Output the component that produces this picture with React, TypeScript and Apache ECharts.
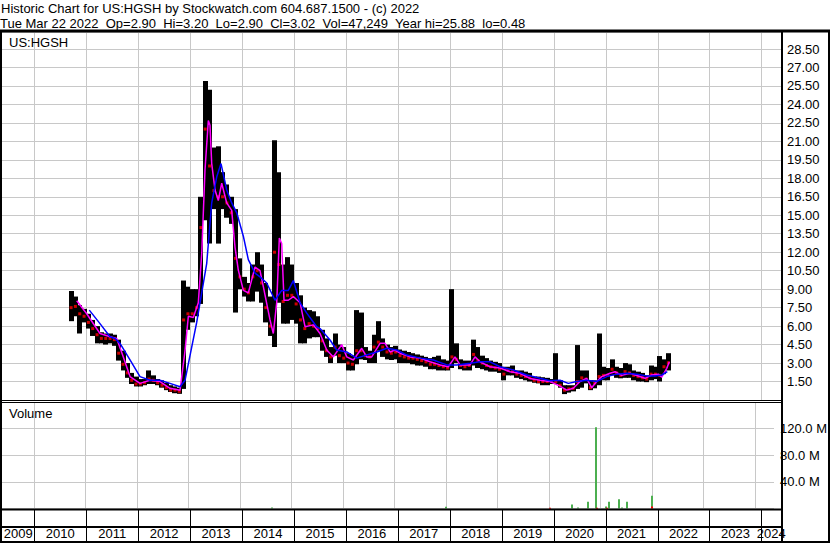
import React, { useEffect, useRef } from "react";
import * as echarts from "echarts";

// ---------- DATA ----------
const months = [
  "2010-09", "2010-10", "2010-11", "2010-12",
  "2011-01", "2011-02", "2011-03", "2011-04", "2011-05", "2011-06", "2011-07", "2011-08", "2011-09", "2011-10", "2011-11", "2011-12",
  "2012-01", "2012-02", "2012-03", "2012-04", "2012-05", "2012-06", "2012-07", "2012-08", "2012-09", "2012-10", "2012-11", "2012-12",
  "2013-01", "2013-02", "2013-03", "2013-04", "2013-05", "2013-06", "2013-07", "2013-08", "2013-09", "2013-10", "2013-11", "2013-12",
  "2014-01", "2014-02", "2014-03", "2014-04", "2014-05", "2014-06", "2014-07", "2014-08", "2014-09", "2014-10", "2014-11", "2014-12",
  "2015-01", "2015-02", "2015-03", "2015-04", "2015-05", "2015-06", "2015-07", "2015-08", "2015-09", "2015-10", "2015-11", "2015-12",
  "2016-01", "2016-02", "2016-03", "2016-04", "2016-05", "2016-06", "2016-07", "2016-08", "2016-09", "2016-10", "2016-11", "2016-12",
  "2017-01", "2017-02", "2017-03", "2017-04", "2017-05", "2017-06", "2017-07", "2017-08", "2017-09", "2017-10", "2017-11", "2017-12",
  "2018-01", "2018-02", "2018-03", "2018-04", "2018-05", "2018-06", "2018-07", "2018-08", "2018-09", "2018-10", "2018-11", "2018-12",
  "2019-01", "2019-02", "2019-03", "2019-04", "2019-05", "2019-06", "2019-07", "2019-08", "2019-09", "2019-10", "2019-11", "2019-12",
  "2020-01", "2020-02", "2020-03", "2020-04", "2020-05", "2020-06", "2020-07", "2020-08", "2020-09", "2020-10", "2020-11", "2020-12",
  "2021-01", "2021-02", "2021-03", "2021-04", "2021-05", "2021-06", "2021-07", "2021-08", "2021-09", "2021-10", "2021-11", "2021-12",
  "2022-01", "2022-02", "2022-03",
];

const highs = [
  8.85, 8.4, 7.7, 7.4,
  7.0, 6.5, 6.0, 5.5, 5.4, 5.4, 5.3, 4.9, 4.0, 3.0, 2.2, 1.9,
  1.7, 1.7, 2.4, 2.0, 1.7, 1.6, 1.4, 1.2, 1.1, 1.0, 9.7, 9.2,
  9.0, 9.0, 16.5, 25.9, 25.2, 20.5, 20.6, 18.5, 17.5, 16.5, 15.5, 11.5,
  10.0, 9.5, 11.0, 12.0, 11.0, 9.5, 8.4, 21.1, 18.5, 11.0, 11.6, 11.0,
  9.5, 8.5, 7.5, 7.3, 7.2, 6.8, 5.7, 5.0, 4.3, 5.4, 4.5, 4.3,
  3.8, 3.6, 7.3, 7.1, 4.3, 4.0, 5.3, 6.4, 5.0, 4.5, 4.3, 4.4,
  4.1, 4.0, 3.9, 3.8, 3.7, 3.6, 3.5, 3.4, 3.5, 3.6, 3.3, 3.2,
  9.0, 4.6, 3.3, 3.2, 3.2, 4.9, 4.3, 3.6, 3.4, 3.2, 3.1, 3.0,
  2.7, 2.7, 2.8, 2.4, 2.4, 2.3, 2.2, 1.9, 1.9, 1.85, 1.8, 1.7,
  3.8, 1.6, 1.2, 1.2, 1.2, 4.46, 2.4, 2.4, 1.6, 1.6, 5.4, 2.7,
  2.6, 3.3, 2.7, 2.6, 3.0, 2.9, 2.4, 2.3, 2.2, 2.0, 2.8, 2.7,
  3.57, 3.3, 3.8,
];

const lows = [
  6.4, 6.8, 5.4, 6.3,
  5.8, 5.2, 4.6, 4.6, 4.5, 4.6, 4.4, 3.2, 2.4, 1.8, 1.3, 1.1,
  1.1, 1.2, 1.3, 1.3, 1.2, 1.0, 0.8, 0.65, 0.55, 0.5, 0.9, 5.7,
  6.3, 6.8, 7.8, 14.6, 12.7, 15.5, 12.7, 15.5, 14.8, 14.3, 7.1, 9.0,
  8.4, 8.0, 8.0, 8.8, 7.9, 6.3, 5.2, 4.3, 7.9, 6.2, 6.2, 6.5,
  6.2, 4.6, 4.6, 5.0, 5.1, 5.1, 4.0, 3.5, 3.0, 3.6, 3.0, 3.0,
  2.4, 2.4, 2.9, 3.3, 3.25, 3.0, 3.0, 4.0, 3.5, 3.3, 3.25, 3.3,
  3.0, 3.0, 3.0, 2.9, 2.8, 2.8, 2.7, 2.5, 2.5, 2.4, 2.4, 2.4,
  2.6, 3.0, 2.5, 2.4, 2.4, 2.8, 2.6, 2.5, 2.4, 2.3, 2.3, 2.2,
  1.6, 2.0, 2.0, 1.8, 1.7, 1.6, 1.5, 1.4, 1.35, 1.2, 1.2, 1.3,
  1.3, 1.0, 0.48, 0.6, 0.7, 0.9, 1.0, 1.35, 0.8, 0.95, 1.2, 1.6,
  1.6, 2.0, 1.8, 1.76, 1.8, 1.8, 1.6, 1.5, 1.5, 1.45, 1.6, 1.7,
  1.5, 2.1, 2.4,
];

const closes = [
  7.5, 7.6, 7.0, 6.8,
  6.3, 5.8, 5.3, 5.0, 5.0, 5.0, 4.9, 3.8, 2.9, 2.2, 1.6, 1.3,
  1.3, 1.4, 1.7, 1.6, 1.4, 1.2, 1.0, 0.8, 0.8, 0.7, 6.5, 7.0,
  7.0, 7.5, 14.0, 22.0, 19.0, 17.0, 16.5, 16.5, 16.0, 15.2, 11.5, 10.0,
  9.0, 8.7, 10.0, 10.5, 9.5, 7.5, 6.0, 12.0, 11.0, 8.0, 8.5, 8.5,
  7.8, 6.5, 5.8, 6.2, 6.0, 5.8, 4.8, 4.0, 3.5, 4.3, 3.6, 3.4,
  3.0, 2.9, 4.0, 4.0, 3.6, 3.5, 4.3, 4.7, 4.3, 3.9, 3.8, 3.9,
  3.6, 3.5, 3.4, 3.4, 3.3, 3.2, 3.1, 2.9, 2.9, 2.8, 2.7, 2.6,
  3.5, 3.3, 2.8, 2.7, 2.8, 3.7, 3.2, 3.0, 2.8, 2.7, 2.6, 2.5,
  2.1, 2.4, 2.3, 2.1, 2.0, 1.9, 1.8, 1.6, 1.5, 1.5, 1.5, 1.5,
  1.5, 1.2, 0.8, 0.9, 0.95, 1.5, 1.8, 1.7, 1.0, 1.4, 1.9, 2.0,
  2.0, 2.5, 2.2, 2.0, 2.3, 2.2, 2.0, 1.9, 1.8, 1.7, 2.1, 2.1,
  2.0, 2.7, 3.02,
];

// short moving average (magenta), dates in decimal years
const maFastDates = [
  2010.817, 2011.009, 2011.265, 2011.458, 2011.587, 2011.714, 2011.843, 2012.035, 2012.228, 2012.42,
  2012.613, 2012.806, 2012.902, 2012.966, 2013.062, 2013.158, 2013.224, 2013.287, 2013.351, 2013.383,
  2013.416, 2013.48, 2013.543, 2013.609, 2013.705, 2013.801, 2013.865, 2013.928, 2014.025, 2014.121,
  2014.25, 2014.346, 2014.41, 2014.539, 2014.602, 2014.668, 2014.718, 2014.764, 2014.808, 2014.891,
  2014.988, 2015.117, 2015.213, 2015.373, 2015.502, 2015.631, 2015.758, 2015.92, 2016.016, 2016.143,
  2016.305, 2016.401, 2016.497, 2016.657, 2016.753, 2016.85, 2016.946, 2017.042, 2017.235, 2017.427,
  2017.62, 2017.812, 2017.972, 2018.101, 2018.198, 2018.39, 2018.486, 2018.583, 2018.775, 2018.968,
  2019.16, 2019.353, 2019.545, 2019.738, 2019.93, 2020.123, 2020.252, 2020.379, 2020.508, 2020.636,
  2020.733, 2020.829, 2020.926, 2021.086, 2021.182, 2021.311, 2021.471, 2021.631, 2021.76, 2021.889,
  2022.016, 2022.082, 2022.178, 2022.228,
];
const maFastValues = [
  8.06, 7.0, 5.4, 5.14, 5.0, 3.5, 1.9, 1.35, 1.6, 1.5,
  0.95, 0.8, 4.0, 6.8, 6.7, 7.9, 11.9, 18.7, 22.7, 22.3,
  19.2, 17.05, 16.2, 17.6, 16.0, 15.4, 12.4, 10.55, 8.9, 8.7,
  10.8, 10.5, 9.2, 6.5, 5.4, 7.9, 13.15, 12.7, 8.1, 8.1,
  8.4, 7.9, 5.95, 6.1, 5.4, 4.06, 3.5, 4.5, 3.5, 3.25,
  4.2, 3.5, 3.5, 4.6, 4.6, 3.9, 4.06, 3.8, 3.5, 3.4,
  3.1, 2.85, 2.7, 3.5, 2.85, 2.85, 3.5, 3.1, 2.7, 2.6,
  2.3, 2.17, 1.75, 1.6, 1.5, 1.13, 0.8, 0.95, 1.5, 1.76,
  1.0, 1.5, 1.9, 2.17, 2.3, 2.0, 2.17, 1.95, 1.76, 2.03,
  2.1, 1.85, 2.57, 3.1,
];

// long moving average (blue), dates in decimal years
const maSlowDates = [
  2011.059, 2011.265, 2011.458, 2011.554, 2011.65, 2011.843, 2012.035, 2012.228, 2012.42, 2012.613,
  2012.806, 2012.902, 2012.998, 2013.127, 2013.32, 2013.416, 2013.512, 2013.595, 2013.705, 2013.801,
  2013.898, 2014.025, 2014.121, 2014.25, 2014.346, 2014.475, 2014.635, 2014.764, 2014.891, 2014.988,
  2015.117, 2015.246, 2015.438, 2015.502, 2015.694, 2015.823, 2016.016, 2016.208, 2016.401, 2016.594,
  2016.786, 2016.979, 2017.171, 2017.427, 2017.683, 2017.942, 2018.134, 2018.39, 2018.583, 2018.775,
  2018.968, 2019.224, 2019.481, 2019.738, 2019.93, 2020.123, 2020.283, 2020.445, 2020.636, 2020.829,
  2021.021, 2021.214, 2021.407, 2021.599, 2021.789, 2021.95, 2022.082, 2022.189,
];
const maSlowValues = [
  7.3, 6.2, 5.14, 5.0, 4.6, 3.25, 1.9, 1.6, 1.6, 1.35,
  1.08, 1.6, 3.6, 6.3, 11.1, 16.0, 18.1, 19.2, 17.05, 16.0,
  15.2, 13.3, 11.4, 10.3, 10.0, 9.5, 8.1, 8.9, 8.9, 9.7,
  7.9, 7.05, 5.95, 5.8, 4.87, 4.06, 3.9, 3.4, 3.65, 3.9,
  4.2, 4.06, 3.65, 3.4, 3.25, 2.85, 2.85, 2.98, 3.1, 3.1,
  2.7, 2.43, 2.03, 1.76, 1.57, 1.6, 1.35, 1.5, 1.6, 1.5,
  1.9, 2.1, 2.17, 2.1, 1.95, 1.95, 2.03, 2.3,
];

// volume (millions), dates in decimal years
const volDates = [
  2014.622, 2017.999, 2020.021, 2020.445, 2020.56, 2020.772, 2020.913, 2020.932,
  2021.106, 2021.125, 2021.177, 2021.375, 2021.427, 2021.529, 2022.01, 2022.01,
];
const volValues = [1.5, 2.5, 1.0, 6, 1.5, 10, 122, 1, 3, 1, 10, 14, 1.5, 10, 19, 3];
const volDir = ["up", "up", "down", "up", "up", "up", "up", "down", "up", "down", "up", "up", "up", "up", "up", "down"];

const yearTicks = [2010, 2011, 2012, 2013, 2014, 2015, 2016, 2017, 2018, 2019, 2020, 2021, 2022, 2023, 2024];
const yearLabels = ["2009", "2010", "2011", "2012", "2013", "2014", "2015", "2016", "2017", "2018", "2019", "2020", "2021", "2022", "2023", "2024"];

const headerLine1 = "Historic Chart for US:HGSH by Stockwatch.com 604.687.1500 - (c) 2022";
const headerLine2 = "Tue Mar 22 2022  Op=2.90  Hi=3.20  Lo=2.90  Cl=3.02  Vol=47,249  Year hi=25.88  lo=0.48";
const symbolName = "US:HGSH";
const volumeTitle = "Volume";

// ---------- CHART ----------
const X_MIN = 2009.378;
const X_MAX = 2024.378;
const PRICE_MAX = 29.84;
const VOL_MAX = 159;
const FONT = '"Liberation Sans", Arial, sans-serif';
const GRID_COLOR = "#c8c8c8";

function monthToYear(s: string) {
  const [y, m] = s.split("-").map(Number);
  return y + (m - 0.5) / 12;
}

function gridLineSeries(xi: number, ymax: number, color: string) {
  return {
    type: "custom",
    xAxisIndex: xi,
    yAxisIndex: xi,
    silent: true,
    z: 1,
    data: yearTicks.map((y) => [y, 0]),
    renderItem: (_p: any, api: any) => {
      const x = api.value(0);
      const a = api.coord([x, 0]);
      const b = api.coord([x, ymax]);
      const px = Math.round(a[0]) + 0.5;
      return {
        type: "line",
        shape: { x1: px, y1: a[1], x2: px, y2: b[1] },
        style: { stroke: color, lineWidth: 1 },
      };
    },
  };
}

function rectEl(x: number, y: number, w: number, h: number) {
  return { type: "rect", z: 100, silent: true, shape: { x, y, width: w, height: h }, style: { fill: "#000" } };
}

export default function App() {
  const ref = useRef<HTMLDivElement>(null);

  useEffect(() => {
    document.body.style.margin = "0";
    if (!ref.current) return;
    const chart = echarts.init(ref.current, undefined, { renderer: "svg" });

    const barData = months.map((m, i) => [monthToYear(m), highs[i], lows[i], closes[i]]);
    const closeData = months.map((m, i) => [monthToYear(m), closes[i]]);
    const fastData = maFastDates.map((d, i) => [d, maFastValues[i]]);
    const slowData = maSlowDates.map((d, i) => [d, maSlowValues[i]]);
    const volData = volDates.map((d, i) => [d, volValues[i], volDir[i] === "up" ? 1 : 0]);
    const labelData = yearLabels.map((l) => {
      const y = Number(l);
      const lo = Math.max(y, X_MIN);
      const hi = Math.min(y + 1, X_MAX);
      return [(lo + hi) / 2, 0.226, l];
    });

    const axisLabelBase = { color: "#000", fontSize: 13, fontFamily: FONT, margin: 6, align: "left" };

    const option: any = {
      animation: false,
      backgroundColor: "#ffffff",
      grid: [
        { left: 2, right: 49, top: 32.5, height: 367.5 },
        { left: 2, right: 49, top: 402.5, height: 106 },
        { left: 2, right: 49, top: 510, height: 31 },
      ],
      xAxis: [0, 1, 2].map((i) => ({ type: "value", gridIndex: i, min: X_MIN, max: X_MAX, show: false })),
      yAxis: [
        {
          type: "value", gridIndex: 0, position: "right", min: 0, max: PRICE_MAX, interval: 1.5,
          axisLine: { show: false }, axisTick: { show: false },
          axisLabel: { ...axisLabelBase, formatter: (v: number) => (v > 0.1 && v < 29 ? v.toFixed(2) : "") },
          splitLine: { show: true, lineStyle: { color: GRID_COLOR, width: 1 } },
        },
        {
          type: "value", gridIndex: 1, position: "right", min: 0, max: VOL_MAX, interval: 40,
          axisLine: { show: false }, axisTick: { show: false },
          axisLabel: { ...axisLabelBase, formatter: (v: number) => (v > 1 && v < 150 ? v.toFixed(1) + " M" : "") },
          splitLine: { show: true, lineStyle: { color: GRID_COLOR, width: 1 } },
        },
        { type: "value", gridIndex: 2, min: 0, max: 1, show: false, splitLine: { show: false } },
      ],
      graphic: {
        elements: [
          { type: "text", z: 100, x: 1, y: 8, style: { text: headerLine1, font: `13px ${FONT}`, fill: "#000", verticalAlign: "middle", align: "left" } },
          { type: "text", z: 100, x: 0, y: 23.5, style: { text: headerLine2, font: `13px ${FONT}`, fill: "#000", verticalAlign: "middle", align: "left" } },
          { type: "text", z: 100, x: 9, y: 42, style: { text: symbolName, font: `13px ${FONT}`, fill: "#000", verticalAlign: "middle", align: "left" } },
          { type: "text", z: 100, x: 9, y: 413.5, style: { text: volumeTitle, font: `13px ${FONT}`, fill: "#000", verticalAlign: "middle", align: "left" } },
          rectEl(0, 29.5, 830, 3),
          rectEl(0, 32, 2, 511),
          rectEl(781, 32, 2, 511),
          rectEl(828, 32, 2, 511),
          rectEl(0, 400, 781, 1),
          rectEl(0, 402, 781, 1),
          rectEl(0, 508.5, 781, 2),
          rectEl(0, 526, 781, 2),
          rectEl(0, 541, 830, 2),
        ],
      },
      series: [
        gridLineSeries(0, PRICE_MAX, GRID_COLOR),
        gridLineSeries(1, VOL_MAX, GRID_COLOR),
        gridLineSeries(2, 1, "#000"),
        {
          type: "custom", xAxisIndex: 0, yAxisIndex: 0, z: 3, silent: true,
          data: barData,
          encode: { x: 0, y: [1, 2] },
          renderItem: (_p: any, api: any) => {
            const x = api.value(0);
            const t = api.coord([x, api.value(1)]);
            const b = api.coord([x, api.value(2)]);
            const w = Math.ceil(api.size([1 / 12, 0])[0]);
            return {
              type: "rect",
              shape: { x: Math.round(t[0] - w / 2), y: t[1], width: w, height: Math.max(1, b[1] - t[1]) },
              style: { fill: "#000" },
            };
          },
        },
        {
          type: "scatter", xAxisIndex: 0, yAxisIndex: 0, z: 4, silent: true,
          symbol: "rect", symbolSize: [3, 3],
          itemStyle: { color: "#ff0000" },
          data: closeData,
        },
        {
          type: "line", xAxisIndex: 0, yAxisIndex: 0, z: 5, silent: true,
          showSymbol: false, symbol: "none",
          lineStyle: { color: "#ff00ff", width: 1.5 },
          data: fastData,
        },
        {
          type: "line", xAxisIndex: 0, yAxisIndex: 0, z: 6, silent: true,
          showSymbol: false, symbol: "none",
          lineStyle: { color: "#0000ff", width: 1.5 },
          data: slowData,
        },
        {
          type: "custom", xAxisIndex: 1, yAxisIndex: 1, z: 3, silent: true,
          data: volData,
          renderItem: (_p: any, api: any) => {
            const x = api.value(0);
            const t = api.coord([x, api.value(1)]);
            const b = api.coord([x, 0]);
            return {
              type: "rect",
              shape: { x: Math.round(t[0]) - 1, y: t[1], width: 2, height: Math.max(1, b[1] - t[1]) },
              style: { fill: api.value(2) === 1 ? "#4caf50" : "#ff0000" },
            };
          },
        },
        {
          type: "custom", xAxisIndex: 2, yAxisIndex: 2, z: 3, silent: true,
          data: labelData,
          renderItem: (_p: any, api: any) => {
            const p = api.coord([api.value(0), api.value(1)]);
            return {
              type: "text",
              x: p[0], y: p[1],
              style: { text: String(api.value(2)), font: `13px ${FONT}`, fill: "#000", align: "center", verticalAlign: "middle" },
            };
          },
        },
      ],
    };

    chart.setOption(option);
    return () => chart.dispose();
  }, []);

  return <div ref={ref} style={{ width: 830, height: 543 }} />;
}
